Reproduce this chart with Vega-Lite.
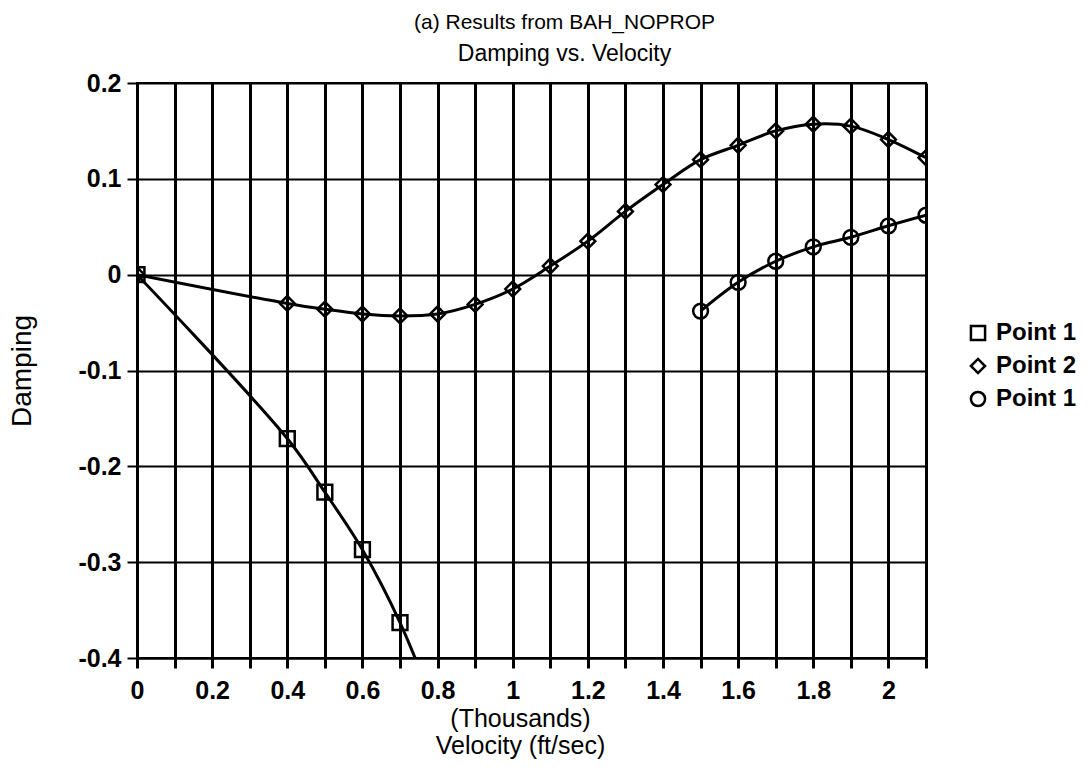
{
  "$schema": "https://vega.github.io/schema/vega-lite/v6.json",
  "width": 789,
  "height": 575,
  "autosize": {"type": "none"},
  "padding": {"left": 137, "top": 83, "right": 164, "bottom": 110},
  "background": "white",
  "title": {
    "text": "(a) Results from BAH_NOPROP",
    "subtitle": "Damping vs. Velocity",
    "anchor": "middle",
    "dx": 33,
    "font": "Liberation Sans",
    "fontSize": 21,
    "fontWeight": "normal",
    "color": "black",
    "subtitleFont": "Liberation Sans",
    "subtitleFontSize": 23,
    "subtitleColor": "black",
    "subtitlePadding": 10,
    "offset": 5
  },
  "data": {
    "values": [
      {"velocity": 0, "damping": 0, "series": "s1"},
      {"velocity": 0.4, "damping": -0.171, "series": "s1"},
      {"velocity": 0.5, "damping": -0.227, "series": "s1"},
      {"velocity": 0.6, "damping": -0.287, "series": "s1"},
      {"velocity": 0.7, "damping": -0.363, "series": "s1"},
      {"velocity": 0.8, "damping": -0.46, "series": "s1"},
      {"velocity": 0, "damping": 0, "series": "s2"},
      {"velocity": 0.4, "damping": -0.03, "series": "s2"},
      {"velocity": 0.5, "damping": -0.036, "series": "s2"},
      {"velocity": 0.6, "damping": -0.041, "series": "s2"},
      {"velocity": 0.7, "damping": -0.043, "series": "s2"},
      {"velocity": 0.8, "damping": -0.041, "series": "s2"},
      {"velocity": 0.9, "damping": -0.031, "series": "s2"},
      {"velocity": 1.0, "damping": -0.015, "series": "s2"},
      {"velocity": 1.1, "damping": 0.009, "series": "s2"},
      {"velocity": 1.2, "damping": 0.035, "series": "s2"},
      {"velocity": 1.3, "damping": 0.066, "series": "s2"},
      {"velocity": 1.4, "damping": 0.094, "series": "s2"},
      {"velocity": 1.5, "damping": 0.12, "series": "s2"},
      {"velocity": 1.6, "damping": 0.135, "series": "s2"},
      {"velocity": 1.7, "damping": 0.15, "series": "s2"},
      {"velocity": 1.8, "damping": 0.157, "series": "s2"},
      {"velocity": 1.9, "damping": 0.155, "series": "s2"},
      {"velocity": 2.0, "damping": 0.141, "series": "s2"},
      {"velocity": 2.1, "damping": 0.122, "series": "s2"},
      {"velocity": 1.5, "damping": -0.038, "series": "s3"},
      {"velocity": 1.6, "damping": -0.008, "series": "s3"},
      {"velocity": 1.7, "damping": 0.014, "series": "s3"},
      {"velocity": 1.8, "damping": 0.029, "series": "s3"},
      {"velocity": 1.9, "damping": 0.039, "series": "s3"},
      {"velocity": 2.0, "damping": 0.051, "series": "s3"},
      {"velocity": 2.1, "damping": 0.062, "series": "s3"}
    ]
  },
  "encoding": {
    "x": {
      "field": "velocity",
      "type": "quantitative",
      "scale": {"domain": [0, 2.1], "nice": false, "zero": false},
      "axis": {
        "title": ["(Thousands)", "Velocity (ft/sec)"],
        "titleX": 383,
        "values": [0, 0.1, 0.2, 0.3, 0.4, 0.5, 0.6, 0.7, 0.8, 0.9, 1.0, 1.1, 1.2, 1.3, 1.4, 1.5, 1.6, 1.7, 1.8, 1.9, 2.0, 2.1],
        "labelExpr": "round(datum.value*10) % 2 == 0 ? '' + round(datum.value*10)/10 : ''",
        "grid": true,
        "gridColor": "black",
        "gridWidth": 3,
        "gridOpacity": 1,
        "domainColor": "black",
        "domainWidth": 2,
        "tickColor": "black",
        "tickWidth": 3,
        "tickSize": 10,
        "labelFont": "Liberation Sans",
        "labelFontSize": 25,
        "labelFontWeight": "bold",
        "labelColor": "black",
        "labelPadding": 10,
        "labelFlush": false,
        "labelOverlap": false,
        "titleFont": "Liberation Sans",
        "titleFontSize": 25,
        "titleFontWeight": "normal",
        "titleColor": "black",
        "titlePadding": 3,
        "titleLineHeight": 27
      }
    },
    "y": {
      "field": "damping",
      "type": "quantitative",
      "scale": {"domain": [-0.4, 0.2], "nice": false, "zero": false},
      "axis": {
        "title": "Damping",
        "values": [-0.4, -0.3, -0.2, -0.1, 0, 0.1, 0.2],
        "labelExpr": "'' + round(datum.value*10)/10",
        "grid": true,
        "gridColor": "black",
        "gridWidth": 2,
        "gridOpacity": 1,
        "domainColor": "black",
        "domainWidth": 2,
        "tickColor": "black",
        "tickWidth": 2,
        "tickSize": 10,
        "labelFont": "Liberation Sans",
        "labelFontSize": 25,
        "labelFontWeight": "bold",
        "labelColor": "black",
        "labelPadding": 6,
        "labelFlush": false,
        "labelOverlap": false,
        "titleFont": "Liberation Sans",
        "titleFontSize": 28,
        "titleFontWeight": "normal",
        "titleColor": "black",
        "titlePadding": 41
      }
    }
  },
  "layer": [
    {
      "mark": {"type": "line", "interpolate": "catmull-rom", "color": "black", "strokeWidth": 3, "clip": true},
      "encoding": {"detail": {"field": "series", "type": "nominal"}}
    },
    {
      "mark": {"type": "point", "filled": false, "color": "black", "strokeWidth": 2.5, "size": 220, "opacity": 1, "clip": true},
      "encoding": {
        "shape": {
          "field": "series",
          "type": "nominal",
          "scale": {"domain": ["s1", "s2", "s3"], "range": ["square", "diamond", "circle"]},
          "legend": {
            "title": null,
            "orient": "none",
            "legendX": 829,
            "legendY": 238,
            "padding": 0,
            "labelExpr": "datum.value == 's2' ? 'Point 2' : 'Point 1'",
            "labelFont": "Liberation Sans",
            "labelFontSize": 24,
            "labelFontWeight": "bold",
            "labelColor": "black",
            "labelOffset": 6,
            "symbolSize": 200,
            "symbolStrokeWidth": 2.5,
            "symbolStrokeColor": "black",
            "symbolFillColor": "white",
            "rowPadding": 7
          }
        }
      }
    }
  ],
  "config": {
    "view": {"stroke": "black", "strokeWidth": 2}
  }
}
